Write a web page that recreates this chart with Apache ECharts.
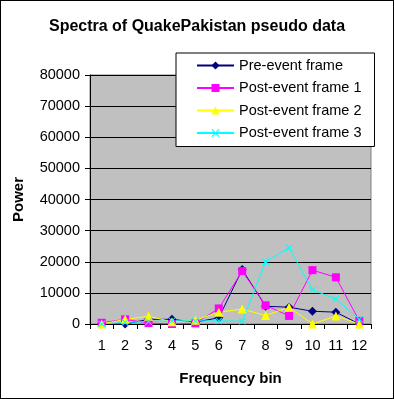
<!DOCTYPE html>
<html><head><meta charset="utf-8">
<script src="https://cdn.jsdelivr.net/npm/echarts@6/dist/echarts.min.js"></script>
<style>html,body{margin:0;padding:0;background:#fff}#c{width:394px;height:399px;box-sizing:border-box;border:1px solid #000}</style>
</head><body><div id="c"></div>
<script>
const categories = ['1','2','3','4','5','6','7','8','9','10','11','12'];
const preEvent = [0, 0, 1500, 1500, 600, 2000, 17500, 5700, 5400, 4100, 3800, 0];
const postEvent1 = [400, 1500, 300, 0, 200, 5000, 17000, 6000, 2600, 17300, 15000, 1000];
const postEvent2 = [0, 1500, 2500, 700, 1200, 3800, 4800, 2700, 5400, 0, 2600, 0];
const postEvent3 = [0, 500, 800, 1000, 1000, 1000, 900, 20000, 24500, 11000, 8000, 1500];
const seriesNames = ['Pre-event frame','Post-event frame 1','Post-event frame 2','Post-event frame 3'];
const yTicks = [0,10000,20000,30000,40000,50000,60000,70000,80000];

const xPath = 'path://M0,1L1,0L5,4L9,0L10,1L6,5L10,9L9,10L5,6L1,10L0,9L4,5Z';
const chart = echarts.init(document.getElementById('c'));
const font = 'Arial, "Liberation Sans", sans-serif';
function mk(name, data, color, symbol, size){
  return {name, type:'line', data, color, symbol, symbolSize:size,
    lineStyle:{width:1,color}, itemStyle:{color}, animation:false, z: 3};
}
chart.setOption({
  backgroundColor:'#fff',
  title:{text:'Spectra of QuakePakistan pseudo data', left:'center', top:13,
    textStyle:{fontFamily:font, fontSize:16, fontWeight:'bold', color:'#000'}},
  legend:{orient:'vertical', left:175, top:52, backgroundColor:'#fff', borderColor:'#000', borderWidth:1,
    padding:[5,13,6,20], itemGap:7.5, itemWidth:37, itemHeight:10,
    textStyle:{fontFamily:font, fontSize:14.5, lineHeight:14, color:'#000'}, data:seriesNames},
  grid:{left:89, right:22, top:74, bottom:74, show:true, backgroundColor:'#c0c0c0', borderColor:'#808080', borderWidth:1},
  xAxis:{type:'category', data:categories, boundaryGap:true,
    name:'Frequency bin', nameLocation:'middle', nameGap:47,
    nameTextStyle:{fontFamily:font, fontSize:15, fontWeight:'bold', color:'#000'},
    axisLine:{lineStyle:{color:'#000'}}, axisTick:{show:true, inside:false, length:5, lineStyle:{color:'#000'}},
    axisLabel:{fontFamily:font, fontSize:14.5, color:'#000', margin:14}, splitLine:{show:false}},
  yAxis:{type:'value', min:0, max:80000, interval:10000,
    name:'Power', nameLocation:'middle', nameGap:64,
    nameTextStyle:{fontFamily:font, fontSize:15, fontWeight:'bold', color:'#000'},
    axisLine:{show:true, lineStyle:{color:'#000'}}, axisTick:{show:true, length:5, lineStyle:{color:'#000'}},
    axisLabel:{fontFamily:font, fontSize:14.5, color:'#000', margin:10, formatter:v=>yTicks.includes(v)?String(v):''},
    splitLine:{show:true, lineStyle:{color:'#000', width:1}}},
  series:[
    mk(seriesNames[0], preEvent, '#000080', 'diamond', 9),
    mk(seriesNames[1], postEvent1, '#ff00ff', 'rect', 8),
    mk(seriesNames[2], postEvent2, '#ffff00', 'triangle', 9),
    mk(seriesNames[3], postEvent3, '#00ffff', xPath, 7)
  ]
});
</script></body></html>
